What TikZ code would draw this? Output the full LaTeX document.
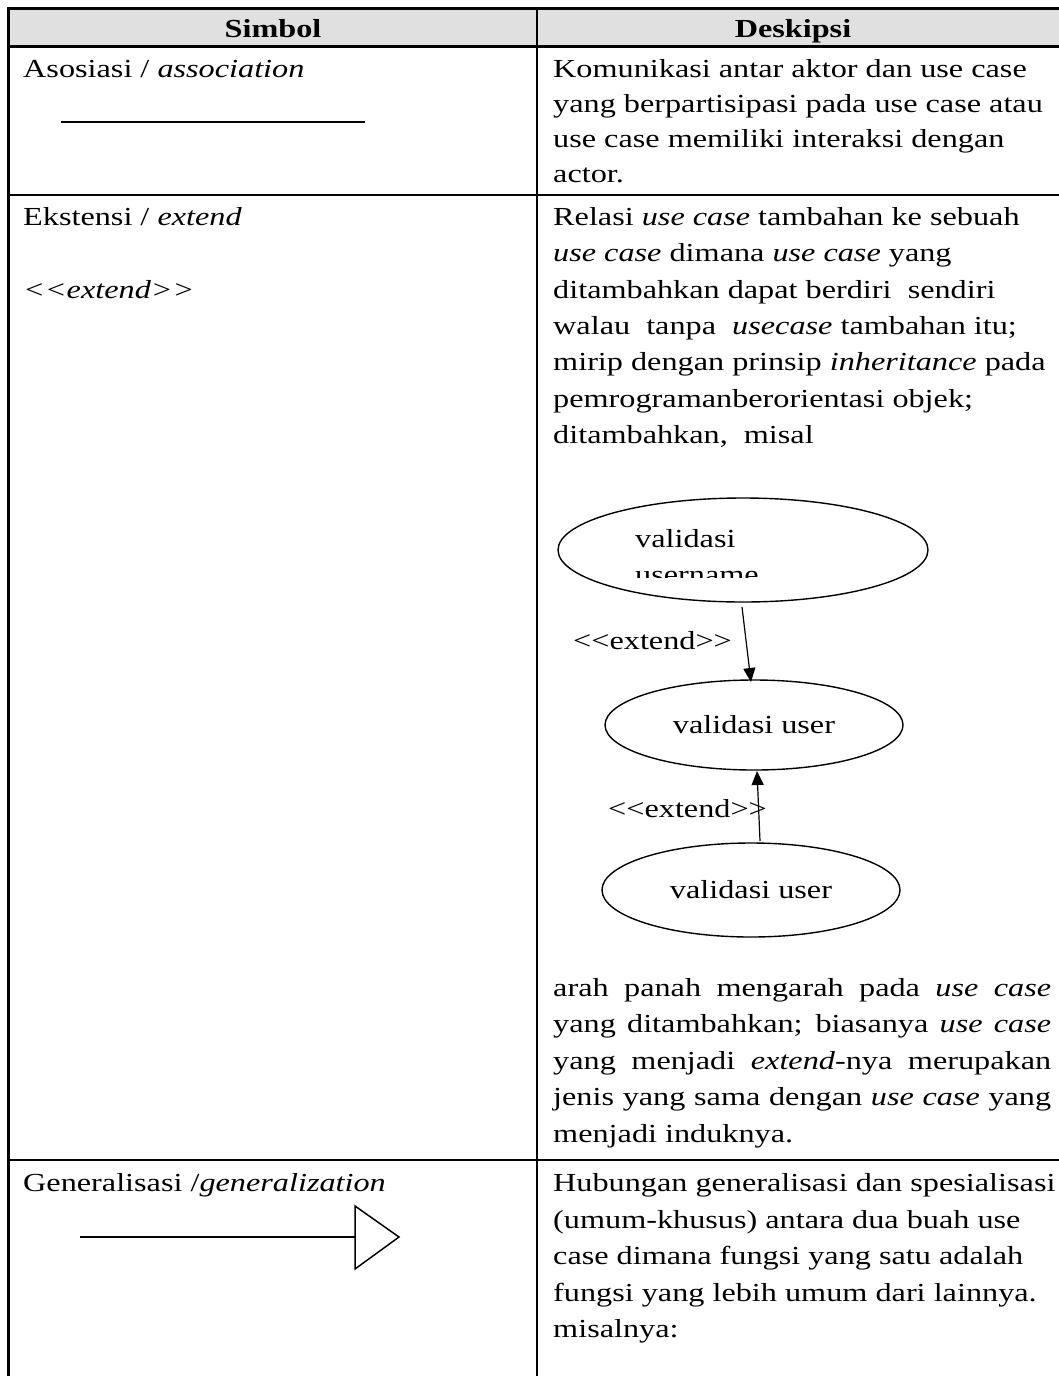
\documentclass[tikz,border=0pt]{standalone}
\usepackage{fontspec}
\setmainfont[FakeStretch=1.24]{Liberation Serif}
\usetikzlibrary{shapes.geometric,arrows.meta}
\definecolor{hdrgray}{RGB}{224,224,224}
\begin{document}
\begin{tikzpicture}[x=1pt,y=-1pt,
  txt/.style={anchor=base west, inner sep=0pt, font=\fontsize{26pt}{36pt}\selectfont},
  hdr/.style={anchor=base, inner sep=0pt, font=\fontsize{26pt}{36pt}\selectfont\bfseries},
  gridline/.style={line width=2.5pt},
  uc/.style={ellipse, draw, line width=1.4pt, inner sep=0pt, font=\fontsize{26pt}{36pt}\selectfont},
  rel/.style={line width=1.2pt, -{Triangle[length=14pt,width=12pt]}},
  thin/.style={line width=1.5pt}
]
\useasboundingbox (0,0) rectangle (1059,1376);
% header background
\fill[hdrgray] (8.5,8.5) rectangle (1070,46.5);
% grid
\draw[gridline] (8.5,1380) -- (8.5,8.5) -- (1070,8.5);
\draw[gridline] (8.5,46.5) -- (1070,46.5);
\draw[gridline] (8.5,195) -- (1070,195);
\draw[gridline] (8.5,1160) -- (1070,1160);
\draw[gridline] (537,8.5) -- (537,1380);
% header
\node[hdr] (h1) at (273,37) {Simbol};
\node[hdr] (h2) at (793,37) {Deskipsi};
% row 1
\node[txt] (l1) at (23,77) {Asosiasi / \textit{association}};
\coordinate (asA) at (61,122);
\coordinate (asB) at (365,122);
\draw[thin] (asA) -- (asB);
\node[txt] (r1a) at (553,77) {Komunikasi antar aktor dan use case};
\node[txt] (r1b) at (553,112) {yang berpartisipasi pada use case atau};
\node[txt] (r1c) at (553,147) {use case memiliki interaksi dengan};
\node[txt] (r1d) at (553,182) {actor.};
% row 2
\node[txt] (l2a) at (23,225) {Ekstensi / \textit{extend}};
\node[txt] (l2b) at (23,298) {\textit{<{}<extend>{}>}};
\node[txt] (r2a) at (553,225) {Relasi \textit{use case} tambahan ke sebuah};
\node[txt] (r2b) at (553,261) {\textit{use case} dimana \textit{use case} yang};
\node[txt] (r2c) at (553,298) {ditambahkan dapat berdiri\ \ sendiri};
\node[txt] (r2d) at (553,334) {walau\ \ tanpa\ \ \textit{usecase} tambahan itu;};
\node[txt] (r2e) at (553,370) {mirip dengan prinsip \textit{inheritance} pada};
\node[txt] (r2f) at (553,407) {pemrogramanberorientasi objek;};
\node[txt] (r2g) at (553,443) {ditambahkan,\ \ misal};
% example diagram
\node[uc, minimum width=370pt, minimum height=104pt] (e1) at (743,550) {};
\begin{scope}
  \clip (600,500) rectangle (900,577);
  \node[txt] (e1t1) at (635,547) {validasi};
  \node[txt] (e1t2) at (635,583) {username};
\end{scope}
\node[uc, minimum width=298pt, minimum height=90pt] (e2) at (754,725) {validasi user};
\node[uc, minimum width=298pt, minimum height=94pt] (e3) at (751,890) {validasi user};
\coordinate (a1s) at (742,607);
\coordinate (a1e) at (751,682);
\coordinate (a2s) at (760,841);
\coordinate (a2e) at (757,771);
\draw[rel] (a1s) -- (a1e);
\draw[rel] (a2s) -- (a2e);
\node[txt] (lab1) at (573,649) {<{}<extend>{}>};
\node[txt] (lab2) at (608,817) {<{}<extend>{}>};
\node[txt] (r2h) at (553,996) {\makebox[498pt][s]{arah panah mengarah pada \textit{use case}}};
\node[txt] (r2i) at (553,1032) {\makebox[498pt][s]{yang ditambahkan; biasanya \textit{use case}}};
\node[txt] (r2j) at (553,1069) {\makebox[498pt][s]{yang menjadi \textit{extend}-nya merupakan}};
\node[txt] (r2k) at (553,1105) {\makebox[498pt][s]{jenis yang sama dengan \textit{use case} yang}};
\node[txt] (r2l) at (553,1142) {menjadi induknya.};
% row 3
\node[txt] (l3) at (23,1191) {Generalisasi /\textit{generalization}};
\coordinate (gA) at (80,1237);
\coordinate (gB) at (355,1237);
\draw[thin] (gA) -- (gB);
\draw[thin, line join=miter] (355,1206) -- (399,1237) -- (355,1269) -- cycle;
\node[txt] (r3a) at (553,1191) {Hubungan generalisasi dan spesialisasi};
\node[txt] (r3b) at (553,1228) {(umum-khusus) antara dua buah use};
\node[txt] (r3c) at (553,1264) {case dimana fungsi yang satu adalah};
\node[txt] (r3d) at (553,1301) {fungsi yang lebih umum dari lainnya.};
\node[txt] (r3e) at (553,1337) {misalnya:};
\end{tikzpicture}
\end{document}
